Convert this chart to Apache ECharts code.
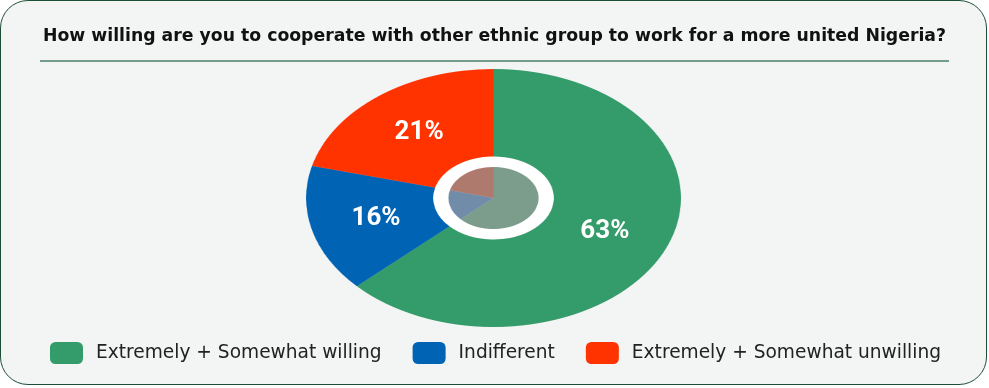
<!DOCTYPE html>
<html>
<head>
<meta charset="utf-8">
<script src="https://cdn.jsdelivr.net/npm/echarts@6/dist/echarts.min.js"></script>
<style>
  html, body { margin: 0; padding: 0; width: 989px; height: 388px; overflow: hidden; background: #ffffff; }
  #frame { position: absolute; left: 0; top: 0; width: 985px; height: 383px; border: 1.5px solid #1d4f37; border-radius: 28px; background: #f2f5f4; box-sizing: content-box; }
  #pie { position: absolute; left: 0; top: 0; width: 989px; height: 388px; transform-origin: 493.5px 198px; transform: scaleX(1.453); }
  #main { position: absolute; left: 0; top: 0; width: 989px; height: 388px; }
</style>
</head>
<body>
<div id="frame"></div>
<div id="pie"></div>
<div id="main"></div>
<script>
const titleText = 'How willing are you to cooperate with other ethnic group to work for a more united Nigeria?';
const categories = ['Extremely + Somewhat willing', 'Indifferent', 'Extremely + Somewhat unwilling'];
const values = [63, 16, 21];
const colors = ['#349b6a', '#0063b3', '#ff3300'];
const innerColors = ['#7c9c8c', '#708ca8', '#af7a6e'];

const CX = 493.5, CY = 198, R = 129, K = 1.453;

const pieData = categories.map((c, i) => ({ name: c, value: values[i], itemStyle: { color: colors[i] } }));
const innerData = categories.map((c, i) => ({ name: c, value: values[i], itemStyle: { color: innerColors[i] } }));

const pieChart = echarts.init(document.getElementById('pie'), null, { devicePixelRatio: 2 });
pieChart.setOption({
  animation: false,
  graphic: [{ type: 'circle', shape: { cx: CX, cy: CY, r: 42 }, style: { fill: '#ffffff' }, silent: true }],
  series: [
    { type: 'pie', center: [CX, CY], radius: [41.5, R], startAngle: 90, clockwise: true,
      data: pieData, label: { show: false }, labelLine: { show: false }, silent: true },
    { type: 'pie', center: [CX, CY], radius: [0, 31], startAngle: 90, clockwise: true,
      data: innerData, label: { show: false }, labelLine: { show: false }, silent: true }
  ]
});

const mainChart = echarts.init(document.getElementById('main'));
mainChart.setOption({
  animation: false,
  backgroundColor: 'transparent',
  title: {
    text: titleText, left: 'center', top: 23,
    textStyle: { fontFamily: 'DejaVu Sans', fontWeight: 'bold', fontSize: 17.3, color: '#111111' }
  },
  graphic: [{ type: 'line', shape: { x1: 40, y1: 61, x2: 949, y2: 61 }, style: { stroke: '#4b7d68', lineWidth: 1.5 }, silent: true }],
  legend: {
    left: 50, top: 342, padding: 0, itemWidth: 33, itemHeight: 22, itemGap: 31, icon: 'roundRect',
    data: categories.map((c, i) => ({ name: c, itemStyle: { color: colors[i], opacity: 1 } })),
    textStyle: { fontFamily: 'DejaVu Sans', fontSize: 18.6, color: '#222222', padding: [0, 0, 0, 8] }
  },
  series: [{
    type: 'pie', center: [CX, CY], radius: [32, R], startAngle: 90, clockwise: true,
    data: categories.map((c, i) => ({ name: c, value: values[i] })),
    itemStyle: { color: 'rgba(0,0,0,0)' },
    silent: true,
    label: { show: true, position: 'inside', formatter: '{c}%', color: '#ffffff',
      fontFamily: 'Roboto', fontWeight: 'bold', fontSize: 26 },
    labelLine: { show: false },
    labelLayout: function (p) {
      const lx = p.labelRect.x + p.labelRect.width / 2;
      return { dx: (lx - CX) * (K - 1) };
    }
  }]
});
</script>
</body>
</html>
